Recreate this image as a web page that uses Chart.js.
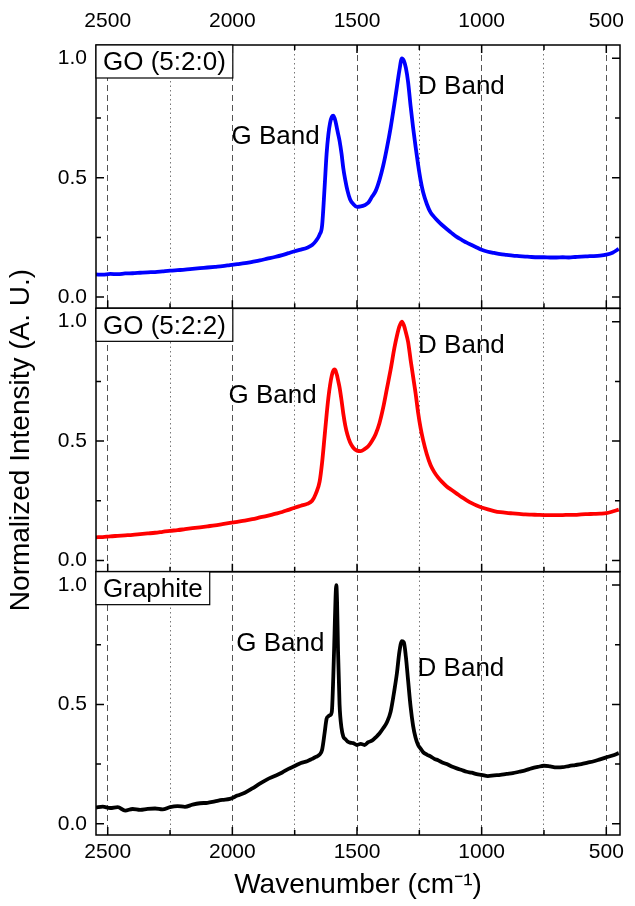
<!DOCTYPE html>
<html>
<head>
<meta charset="utf-8">
<script src="https://cdn.jsdelivr.net/npm/chart.js@4"></script>
<style>
  body { margin: 0; background: #fff; }
  canvas { display: block; }
</style>
</head>
<body>
<canvas id="myChart" width="635" height="906"></canvas>
<script>
const FONT = '"Liberation Sans", Arial, sans-serif';

// wavenumber (cm-1), shared by the three spectra
const wavenumbers = [
  2547, 2520, 2490, 2460, 2430, 2400, 2370, 2340, 2310, 2280,
  2250, 2220, 2190, 2160, 2130, 2100, 2070, 2040, 2010, 1980,
  1950, 1920, 1890, 1860, 1830, 1800, 1775, 1750, 1725, 1700,
  1680, 1665, 1650, 1640, 1630, 1622, 1615, 1608, 1601, 1595,
  1590, 1586, 1583, 1580, 1576, 1570, 1562, 1555, 1547, 1538,
  1528, 1515, 1500, 1485, 1470, 1455, 1440, 1425, 1410, 1395,
  1380, 1365, 1350, 1340, 1330, 1320, 1312, 1304, 1295, 1285,
  1275, 1265, 1255, 1245, 1235, 1220, 1205, 1190, 1175, 1160,
  1140, 1120, 1100, 1080, 1060, 1040, 1020, 1000, 975, 950,
  925, 900, 875, 850, 825, 800, 775, 750, 725, 700,
  675, 650, 625, 600, 575, 550, 525, 500, 475, 450
];

const go520 = [
  0.095, 0.094, 0.097, 0.096, 0.099, 0.100, 0.102, 0.104, 0.105, 0.108,
  0.111, 0.113, 0.115, 0.118, 0.121, 0.124, 0.127, 0.130, 0.134, 0.138,
  0.142, 0.148, 0.154, 0.161, 0.168, 0.176, 0.184, 0.192, 0.199, 0.207,
  0.218, 0.235, 0.262, 0.300, 0.460, 0.600, 0.680, 0.730, 0.755, 0.760,
  0.750, 0.735, 0.720, 0.705, 0.685, 0.655, 0.600, 0.540, 0.490, 0.445,
  0.410, 0.390, 0.378, 0.380, 0.385, 0.395, 0.420, 0.445, 0.490, 0.550,
  0.625, 0.710, 0.810, 0.880, 0.950, 1.000, 0.990, 0.960, 0.900, 0.800,
  0.710, 0.630, 0.555, 0.490, 0.440, 0.390, 0.355, 0.335, 0.318, 0.303,
  0.285, 0.268, 0.252, 0.240, 0.228, 0.218, 0.208, 0.198, 0.190, 0.185,
  0.180, 0.177, 0.174, 0.172, 0.170, 0.168, 0.167, 0.167, 0.166, 0.166,
  0.167, 0.166, 0.168, 0.170, 0.171, 0.172, 0.174, 0.178, 0.186, 0.202
];

const go522 = [
  0.097, 0.098, 0.101, 0.103, 0.105, 0.107, 0.110, 0.113, 0.116, 0.120,
  0.124, 0.127, 0.131, 0.135, 0.139, 0.143, 0.147, 0.152, 0.157, 0.162,
  0.167, 0.173, 0.180, 0.187, 0.195, 0.203, 0.212, 0.221, 0.229, 0.237,
  0.250, 0.280, 0.330, 0.410, 0.520, 0.610, 0.680, 0.735, 0.775, 0.795,
  0.800, 0.795, 0.785, 0.775, 0.755, 0.725, 0.670, 0.615, 0.565, 0.525,
  0.495, 0.472, 0.460, 0.458, 0.466, 0.478, 0.500, 0.530, 0.575, 0.640,
  0.720, 0.800, 0.890, 0.940, 0.980, 1.000, 0.985, 0.955, 0.915, 0.840,
  0.770, 0.700, 0.620, 0.555, 0.505, 0.445, 0.400, 0.370, 0.348, 0.330,
  0.310, 0.295, 0.280, 0.265, 0.252, 0.240, 0.230, 0.222, 0.214, 0.207,
  0.202, 0.199, 0.197, 0.195, 0.193, 0.192, 0.191, 0.190, 0.190, 0.190,
  0.190, 0.191, 0.191, 0.193, 0.194, 0.195, 0.196, 0.198, 0.205, 0.213
];

const graphite = [
  0.068, 0.072, 0.066, 0.070, 0.055, 0.062, 0.058, 0.062, 0.064, 0.060,
  0.070, 0.074, 0.071, 0.080, 0.086, 0.088, 0.094, 0.100, 0.104, 0.118,
  0.130, 0.148, 0.168, 0.186, 0.200, 0.215, 0.230, 0.242, 0.255, 0.262,
  0.272, 0.280, 0.290, 0.310, 0.380, 0.440, 0.450, 0.455, 0.470, 0.620,
  0.800, 0.950, 1.000, 0.930, 0.720, 0.500, 0.400, 0.365, 0.355, 0.345,
  0.340, 0.338, 0.330, 0.335, 0.330, 0.342, 0.348, 0.362, 0.378, 0.400,
  0.425, 0.470, 0.560, 0.630, 0.720, 0.765, 0.760, 0.700, 0.600, 0.490,
  0.410, 0.360, 0.330, 0.315, 0.300, 0.290, 0.282, 0.272, 0.266, 0.258,
  0.250, 0.240, 0.232, 0.225, 0.218, 0.214, 0.208, 0.205, 0.200, 0.203,
  0.205, 0.209, 0.212, 0.218, 0.224, 0.232, 0.238, 0.243, 0.240, 0.236,
  0.237, 0.242, 0.246, 0.250, 0.256, 0.262, 0.270, 0.278, 0.286, 0.296
];

const xMajorTicks = [2500, 2000, 1500, 1000, 500];
const xAllTicks = [2500, 2250, 2000, 1750, 1500, 1250, 1000, 750, 500];
const yLabelTicks = [0, 0.5, 1.0];
const yAllTicks = [0, 0.25, 0.5, 0.75, 1.0];

// panels from top to bottom
const panelAxes = ['y1', 'y2', 'y3'];
const panelNames = ['GO (5:2:0)', 'GO (5:2:2)', 'Graphite'];
const bandNotes = [
  {axis: 'y1', text: 'G Band', x: 1650, y: 0.67, align: 'right'},
  {axis: 'y1', text: 'D Band', x: 1255, y: 0.88, align: 'left'},
  {axis: 'y2', text: 'G Band', x: 1662, y: 0.69, align: 'right'},
  {axis: 'y2', text: 'D Band', x: 1255, y: 0.90, align: 'left'},
  {axis: 'y3', text: 'G Band', x: 1631, y: 0.754, align: 'right'},
  {axis: 'y3', text: 'D Band', x: 1257, y: 0.65, align: 'left'}
];

const toPoints = vals => wavenumbers.map((w, i) => ({x: w, y: vals[i]}));

const yAxis = (title) => ({
  type: 'linear',
  position: 'left',
  stack: 'panels',
  stackWeight: 1,
  min: -0.047,
  max: 1.056,
  grid: {display: false, drawTicks: false},
  border: {display: false},
  afterBuildTicks: s => { s.ticks = yLabelTicks.map(v => ({value: v})); },
  afterFit: s => { s.width = 96; },
  ticks: {
    padding: 9,
    color: '#000',
    font: {family: FONT, size: 21},
    callback: v => v.toFixed(1)
  },
  title: {
    display: !!title,
    text: title || '',
    color: '#000',
    font: {family: FONT, size: 28},
    padding: {top: 4, bottom: 4}
  }
});

const framePlugin = {
  id: 'frames',
  afterDraw(chart) {
    const {ctx, chartArea: a, scales} = chart;
    const xs = scales.x;
    ctx.save();
    ctx.strokeStyle = '#000';
    ctx.lineWidth = 1.5;
    panelAxes.forEach((id, i) => {
      const ys = scales[id];
      ctx.strokeRect(a.left, ys.top, a.right - a.left, ys.bottom - ys.top);
      ctx.beginPath();
      yAllTicks.forEach(v => {
        const py = ys.getPixelForValue(v);
        const len = (v * 2) % 1 === 0 ? 8 : 5;
        ctx.moveTo(a.left, py); ctx.lineTo(a.left + len, py);
        ctx.moveTo(a.right, py); ctx.lineTo(a.right - len, py);
      });
      xAllTicks.forEach(v => {
        const px = xs.getPixelForValue(v);
        const len = v % 500 === 0 ? 8 : 5;
        ctx.moveTo(px, ys.bottom); ctx.lineTo(px, ys.bottom - len);
        if (i === 0) { ctx.moveTo(px, ys.top); ctx.lineTo(px, ys.top + len); }
      });
      ctx.stroke();

      // panel name box
      ctx.font = '26px ' + FONT;
      const w = ctx.measureText(panelNames[i]).width + 14;
      ctx.fillStyle = '#fff';
      ctx.fillRect(a.left, ys.top, w, 33);
      ctx.lineWidth = 1.2;
      ctx.strokeRect(a.left, ys.top, w, 33);
      ctx.lineWidth = 1.5;
      ctx.fillStyle = '#000';
      ctx.textBaseline = 'middle';
      ctx.textAlign = 'left';
      ctx.fillText(panelNames[i], a.left + 7, ys.top + 18);
    });

    ctx.font = '26px ' + FONT;
    ctx.fillStyle = '#000';
    ctx.textBaseline = 'middle';
    bandNotes.forEach(n => {
      ctx.textAlign = n.align;
      ctx.fillText(n.text, xs.getPixelForValue(n.x), scales[n.axis].getPixelForValue(n.y));
    });
    ctx.restore();
  }
};

new Chart("myChart", {
  type: "line",
  data: {
    datasets: [{
      data: toPoints(go520),
      yAxisID: 'y1',
      borderColor: "#0000ff",
      borderWidth: 3.8,
      pointRadius: 0,
      cubicInterpolationMode: 'monotone',
      fill: false,
      label: "GO (5:2:0)"
    }, {
      data: toPoints(go522),
      yAxisID: 'y2',
      borderColor: "#ff0000",
      borderWidth: 3.8,
      pointRadius: 0,
      cubicInterpolationMode: 'monotone',
      fill: false,
      label: "GO (5:2:2)"
    }, {
      data: toPoints(graphite),
      yAxisID: 'y3',
      borderColor: "#000000",
      borderWidth: 3.8,
      pointRadius: 0,
      cubicInterpolationMode: 'monotone',
      fill: false,
      label: "Graphite"
    }]
  },
  options: {
    responsive: false,
    animation: false,
    layout: {padding: {top: 0, right: 7, bottom: 0, left: 0}},
    plugins: {
      legend: {display: false},
      tooltip: {enabled: false}
    },
    scales: {
      x: {
        type: 'linear',
        position: 'bottom',
        reverse: true,
        min: 445,
        max: 2547,
        afterBuildTicks: s => { s.ticks = xMajorTicks.map(v => ({value: v})); },
        afterFit: s => { s.height = 71; },
        grid: {color: '#555', lineWidth: 1, drawTicks: false},
        border: {display: false, dash: [6, 4]},
        ticks: {
          autoSkip: false,
          maxRotation: 0,
          padding: 5,
          color: '#000',
          font: {family: FONT, size: 21},
          callback: v => String(v)
        },
        title: {
          display: true,
          text: 'Wavenumber (cm\u207B\u00B9)',
          color: '#000',
          font: {family: FONT, size: 28},
          padding: {top: 0, bottom: 4}
        }
      },
      x2: {
        type: 'linear',
        position: 'top',
        reverse: true,
        min: 445,
        max: 2547,
        afterBuildTicks: s => { s.ticks = xAllTicks.map(v => ({value: v})); },
        afterFit: s => { s.height = 45; },
        grid: {
          lineWidth: 1,
          drawTicks: false,
          color: c => (c.tick && c.tick.value % 500 === 0) ? 'rgba(0,0,0,0)' : '#777'
        },
        border: {display: false, dash: [1.5, 3]},
        ticks: {
          autoSkip: false,
          maxRotation: 0,
          padding: 11,
          color: '#000',
          font: {family: FONT, size: 21},
          callback: v => (v % 500 === 0 ? String(v) : '')
        }
      },
      // stacked axes are laid out bottom-up, so the top panel's axis comes last
      y3: yAxis(null),
      y2: yAxis('Normalized Intensity (A. U.)'),
      y1: yAxis(null)
    }
  },
  plugins: [framePlugin]
});
</script>
</body>
</html>
